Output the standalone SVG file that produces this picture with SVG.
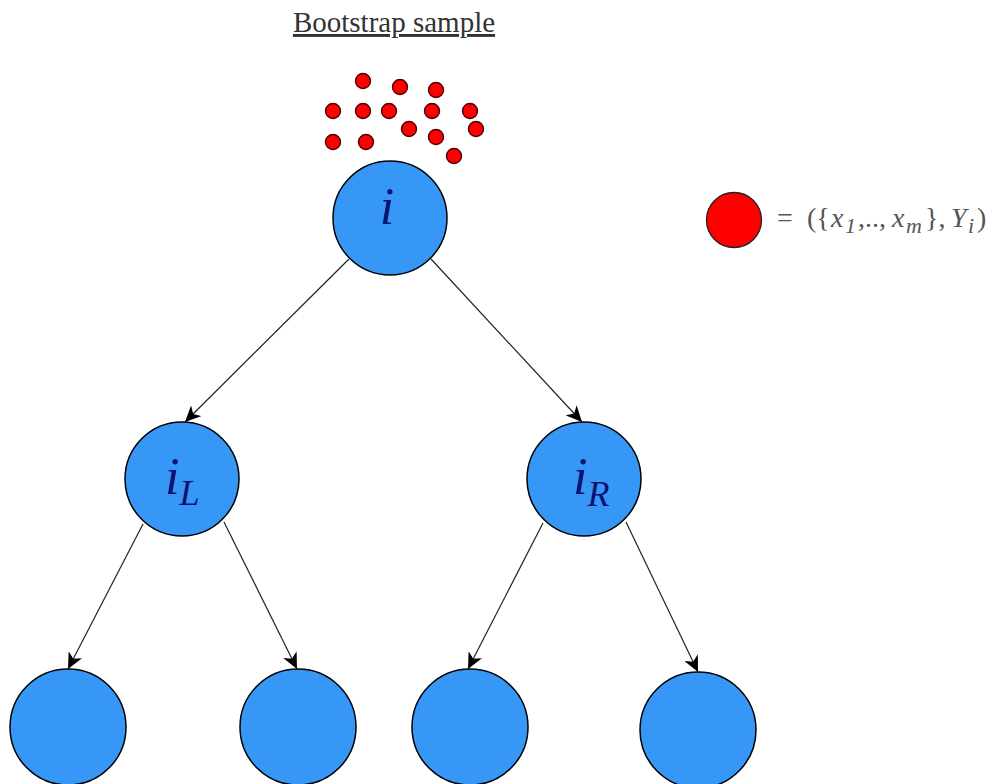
<svg xmlns="http://www.w3.org/2000/svg" width="996" height="784" viewBox="0 0 996 784">
<defs>
<marker id="arr" markerUnits="userSpaceOnUse" markerWidth="17" markerHeight="15" refX="16" refY="7.5" orient="auto">
<path d="M0,0 L16,7.5 L0,15 L4.5,7.5 Z" fill="#000"/>
</marker>
</defs>
<style>
.node{fill:#3797f7;stroke:#000;stroke-width:1.5}
.dot{fill:#f00;stroke:#4a0000;stroke-width:1.4}
.edge{stroke:#222;stroke-width:1.2;fill:none;marker-end:url(#arr)}
.lbl{font-family:"Liberation Serif","Times New Roman",serif;font-style:italic;fill:#0a1470}
.leg{font-family:"Liberation Serif","Times New Roman",serif;fill:#555;font-size:28px}
.ttl{font-family:"Liberation Serif","Times New Roman",serif;font-size:29px;fill:#333;text-decoration:underline}
</style>
<rect width="996" height="784" fill="#fff"/>
<g id="title">
<text class="ttl" x="394" y="32" text-anchor="middle">Bootstrap sample</text>
</g>
<g id="sample">
<circle class="dot" cx="363" cy="81" r="7.5"/>
<circle class="dot" cx="400" cy="87" r="7.5"/>
<circle class="dot" cx="436" cy="90" r="7.5"/>
<circle class="dot" cx="333" cy="111" r="7.5"/>
<circle class="dot" cx="363" cy="111" r="7.5"/>
<circle class="dot" cx="389" cy="111" r="7.5"/>
<circle class="dot" cx="432" cy="111" r="7.5"/>
<circle class="dot" cx="470" cy="111" r="7.5"/>
<circle class="dot" cx="409" cy="129" r="7.5"/>
<circle class="dot" cx="476" cy="129" r="7.5"/>
<circle class="dot" cx="333" cy="142" r="7.5"/>
<circle class="dot" cx="366" cy="142" r="7.5"/>
<circle class="dot" cx="436" cy="137" r="7.5"/>
<circle class="dot" cx="454" cy="156" r="7.5"/>
</g>
<g id="edges">
<line class="edge" x1="349" y1="259" x2="185" y2="422"/>
<line class="edge" x1="431" y1="259" x2="582" y2="422"/>
<line class="edge" x1="143" y1="524" x2="68" y2="669"/>
<line class="edge" x1="224" y1="522" x2="297" y2="669"/>
<line class="edge" x1="543" y1="523" x2="468" y2="669"/>
<line class="edge" x1="626" y1="522" x2="698" y2="672"/>
</g>
<g id="root">
<circle class="node" cx="390" cy="218" r="57"/>
<text class="lbl" x="387" y="224" font-size="52" text-anchor="middle">i</text>
</g>
<g id="iL">
<circle class="node" cx="182" cy="479" r="57"/>
<text class="lbl" x="165" y="494" font-size="52">i<tspan font-size="36" dy="11">L</tspan></text>
</g>
<g id="iR">
<circle class="node" cx="584" cy="479" r="57"/>
<text class="lbl" x="573" y="494" font-size="52">i<tspan font-size="36" dy="12">R</tspan></text>
</g>
<g id="leaf1"><circle class="node" cx="68" cy="727" r="58"/></g>
<g id="leaf2"><circle class="node" cx="298" cy="727" r="58"/></g>
<g id="leaf3"><circle class="node" cx="470" cy="727" r="58"/></g>
<g id="leaf4"><circle class="node" cx="698" cy="730" r="58"/></g>
<g id="legend">
<circle cx="734" cy="220" r="27.5" fill="#f00" stroke="#222" stroke-width="1.3"/>
<text class="leg" y="227"><tspan x="777">=</tspan><tspan x="807">({</tspan><tspan x="831" font-style="italic">x</tspan><tspan x="845" font-style="italic" font-size="22" dy="6">1</tspan><tspan x="858" dy="-6">,..,</tspan><tspan x="892" font-style="italic">x</tspan><tspan x="906" font-style="italic" font-size="22" dy="6">m</tspan><tspan x="925" dy="-6">},</tspan><tspan x="951" font-style="italic">Y</tspan><tspan x="968" font-style="italic" font-size="22" dy="6">i</tspan><tspan x="977" dy="-6">)</tspan></text>
</g>
</svg>
